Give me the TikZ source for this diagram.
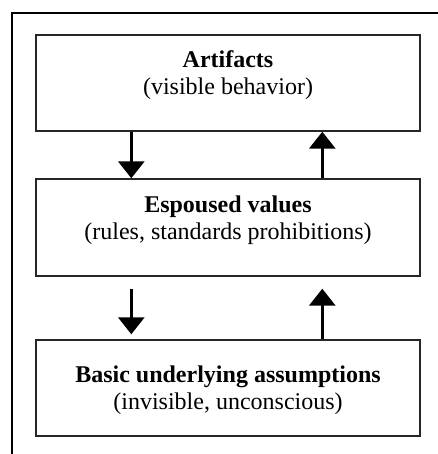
\documentclass[tikz,border=0pt]{standalone}
\usepackage{fontspec}
\setmainfont{Liberation Serif}
\usetikzlibrary{arrows.meta,calc}
\begin{document}
\begin{tikzpicture}[x=1pt,y=-1pt,
  layerbox/.style={draw=black!85,line width=1.4pt,minimum width=384pt,minimum height=96pt,inner sep=0pt},
  lbl/.style={align=center,inner sep=0pt,font=\fontsize{24}{27}\selectfont},
  arr/.style={line width=3pt,-{Triangle[width=26pt,length=17pt]}},
  frameline/.style={line width=2pt}]
\useasboundingbox (0,0) rectangle (437,454);
\coordinate (fa) at (12,455);
\coordinate (fb) at (12,13);
\coordinate (fc) at (438,13);
\draw[frameline] (fa) -- (fb) -- (fc);
\node[layerbox] (b1) at (228,83) {};
\node[layerbox,minimum height=97pt] (b2) at (228,227.5) {};
\node[layerbox] (b3) at (228,388) {};
\node[lbl,anchor=base] (t1a) at ($(b1.north)+(0,33)$) {\textbf{Artifacts}};
\node[lbl,anchor=base] (t1b) at ($(t1a.base)+(0,27)$) {(visible behavior)};
\node[lbl,anchor=base] (t2a) at ($(b2.north)+(0,34)$) {\textbf{Espoused values}};
\node[lbl,anchor=base] (t2b) at ($(t2a.base)+(0,27)$) {(rules, standards prohibitions)};
\node[lbl,anchor=base] (t3a) at ($(b3.north)+(0,43)$) {\textbf{Basic underlying assumptions}};
\node[lbl,anchor=base] (t3b) at ($(t3a.base)+(0,27)$) {(invisible, unconscious)};
\draw[arr] ($(b1.south west)+(96,0)$) -- ($(b2.north west)+(96,0)$);
\draw[arr] ($(b2.north west)+(287,0)$) -- ($(b1.south west)+(287,0)$);
\draw[arr] ($(b2.south west)+(96,12)$) -- ($(b3.north west)+(96,-5)$);
\draw[arr] ($(b3.north west)+(287,0)$) -- ($(b2.south west)+(287,12)$);
\end{tikzpicture}
\end{document}
